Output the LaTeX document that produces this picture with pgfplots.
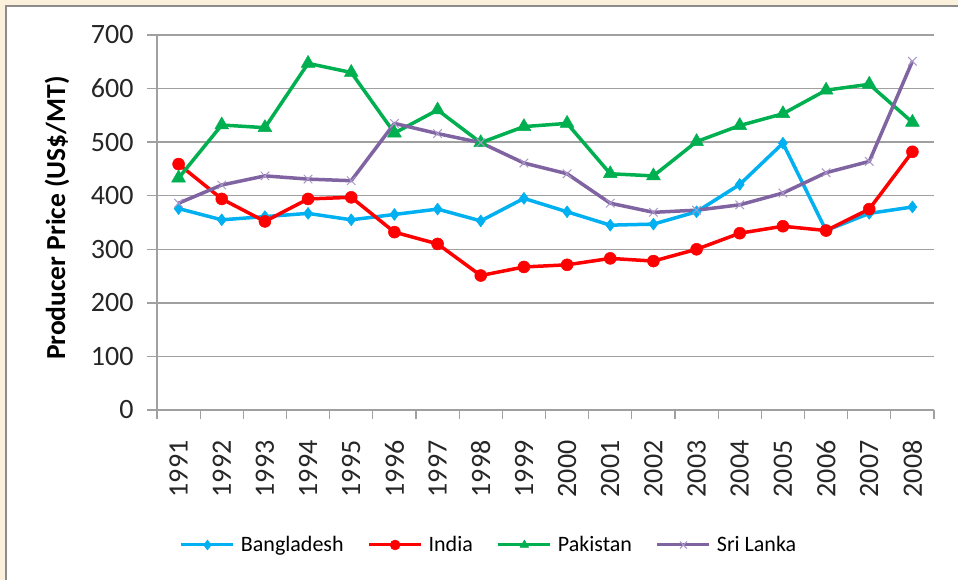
\documentclass[border=0pt]{standalone}
\usepackage{fontspec}
\setmainfont{Carlito}
\usepackage{pgfplots}
\usepackage{pgfplotstable}
\pgfplotsset{compat=1.18}

\definecolor{bdblue}{RGB}{0,176,240}
\definecolor{inred}{RGB}{255,0,0}
\definecolor{pkgreen}{RGB}{0,176,80}
\definecolor{slpurple}{RGB}{128,100,162}
\definecolor{slmark}{RGB}{170,150,200}
\definecolor{gridgray}{RGB}{160,160,160}
\definecolor{framegray}{RGB}{140,140,140}
\definecolor{beige}{RGB}{250,240,220}

% x = 0..17 for 1991..2008
\pgfplotstableread{
x   bd   in   pk   sl
0   376  459  433  386
1   355  394  532  420
2   361  352  527  437
3   367  394  647  431
4   355  397  630  428
5   365  332  517  535
6   375  310  560  516
7   353  251  499  499
8   395  267  529  461
9   370  271  535  441
10  345  283  441  386
11  347  278  437  369
12  370  300  501  373
13  421  330  531  383
14  498  343  553  405
15  335  335  597  443
16  367  375  608  464
17  379  482  537  651
}\prices

\begin{document}
\begin{tikzpicture}[x=1pt,y=1pt]
\useasboundingbox (0,0) rectangle (958,580);
\fill[beige] (0,0) rectangle (958,580);
\begin{scope}
  \clip (0,0) rectangle (958,580);
  \draw[framegray, line width=2pt, fill=white] (6,-20) rectangle (990,574);
\end{scope}
\begin{axis}[
  at={(157pt,170pt)}, anchor=south west,
  scale only axis, width=777pt, height=375pt,
  xmin=-0.5, xmax=17.5, ymin=0, ymax=700,
  axis x line*=bottom, axis y line*=left,
  axis line style={draw=gridgray, line width=1.3pt, -},
  ytick={0,100,...,700},
  ymajorgrids, grid style={draw=gridgray, line width=1.3pt},
  tick align=outside,
  major tick length=10pt,
  ytick style={draw=gridgray, line width=1.3pt},
  xtick={0,...,17},
  xticklabels={1991,1992,1993,1994,1995,1996,1997,1998,1999,2000,2001,2002,2003,2004,2005,2006,2007,2008},
  major x tick style={draw=none},
  minor xtick={-0.5,0.5,...,17.5},
  minor tick length=9pt,
  minor x tick style={draw=gridgray, line width=1.3pt},
  /pgf/number format/assume math mode=true,
  ticklabel style={font=\fontsize{28}{30}\selectfont, text=black!85},
  xticklabel style={yshift=-17pt, rotate=90, anchor=east},
  yticklabel style={xshift=-10pt},
  ylabel={\bfseries Producer Price (US\$/MT)},
  ylabel style={at={(axis description cs:-0.1287,0.512)}, anchor=center,
    font=\fontsize{27.5}{30}\selectfont},
  legend columns=4,
  legend style={at={(0.430,-0.36)}, anchor=center, draw=none, fill=none,
    font=\fontsize{22}{26}\selectfont,
    nodes={inner xsep=6pt},
    /tikz/every even column/.append style={column sep=18pt}},
  legend image code/.code={\draw[mark repeat=2,mark phase=2,#1,
    line width=3pt, mark size=5pt]
    plot coordinates {(0pt,0pt) (26pt,0pt) (52pt,0pt)};},
  every axis plot/.append style={line width=3.5pt, line join=round},
]
\addplot[bdblue, mark=diamond*, mark size=6pt, mark options={line width=0.5pt}] table[x=x,y=bd] {\prices};
\addplot[inred, mark=*, mark size=6pt, mark options={line width=0.5pt}] table[x=x,y=in] {\prices};
\addplot[pkgreen, mark=triangle*, mark size=8pt, mark options={line width=0.5pt}] table[x=x,y=pk] {\prices};
\addplot[slpurple, mark=x, mark size=6pt, mark options={draw=slmark, line width=1pt}] table[x=x,y=sl] {\prices};
\legend{Bangladesh, India, Pakistan, Sri Lanka}
\end{axis}
\end{tikzpicture}
\end{document}
